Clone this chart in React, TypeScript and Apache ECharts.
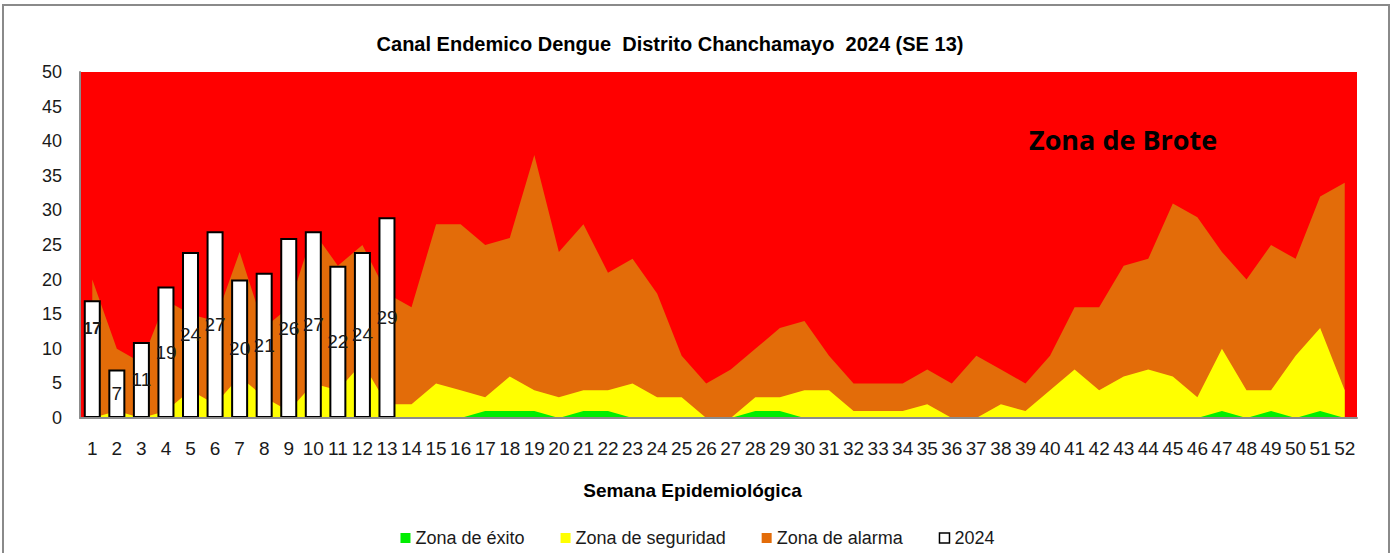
import React, { useEffect, useRef } from 'react';
import * as echarts from 'echarts';

const weeks = ['1','2','3','4','5','6','7','8','9','10','11','12','13','14','15','16','17','18','19','20','21','22','23','24','25','26','27','28','29','30','31','32','33','34','35','36','37','38','39','40','41','42','43','44','45','46','47','48','49','50','51','52'];

// cumulative upper limits of each zone (cases)
const zonaExito = [0,0,0,0,0,0,0,0,0,0,0,0,0,0,0,0,1,1,1,0,1,1,0,0,0,0,0,1,1,0,0,0,0,0,0,0,0,0,0,0,0,0,0,0,0,0,1,0,1,0,1,0];
const zonaSeguridad = [0,1,0,1,4,2,6,3,1,5,4,8,2,2,5,4,3,6,4,3,4,4,5,3,3,0,0,3,3,4,4,1,1,1,2,0,0,2,1,4,7,4,6,7,6,3,10,4,4,9,13,4];
const zonaAlarma = [20,10,8,17,15,14,24,13,16,27,22,25,18,16,28,28,25,26,38,24,28,21,23,18,9,5,7,10,13,14,9,5,5,5,7,5,9,7,5,9,16,16,22,23,31,29,24,20,25,23,32,34];
const casos2024 = [17,7,11,19,24,27,20,21,26,27,22,24,29];

const NARROW = '"Liberation Sans Narrow", "Liberation Sans", Arial, sans-serif';

export default function App() {
  const ref = useRef<HTMLDivElement>(null);
  useEffect(() => {
    const chart = echarts.init(ref.current as HTMLDivElement, null, { renderer: 'svg' });
    const areaSeries = (name: string, data: number[], color: string, z: number) => ({
      name,
      type: 'line',
      data,
      symbol: 'none',
      showSymbol: false,
      lineStyle: { width: 0, color },
      itemStyle: { color },
      areaStyle: { color, opacity: 1 },
      z,
      silent: true,
    });
    chart.setOption({
      animation: false,
      backgroundColor: '#ffffff',
      grid: {
        left: 80, right: 38, top: 72, bottom: 135,
        show: true, backgroundColor: '#FF0000', borderWidth: 0,
      },
      xAxis: {
        type: 'category',
        data: weeks,
        boundaryGap: true,
        axisLine: { show: true, lineStyle: { color: '#8c8c8c', width: 2 } },
        axisTick: { show: false },
        splitLine: { show: false },
        axisLabel: { interval: 0, fontSize: 19, color: '#1a1a1a', fontFamily: NARROW, margin: 21 },
        name: 'Semana Epidemiológica',
        nameLocation: 'middle',
        nameGap: 63,
        nameTextStyle: { fontSize: 19, fontWeight: 'bold', fontFamily: NARROW, color: '#000', padding: [0, 52, 0, 0] },
        z: 10,
      },
      yAxis: {
        type: 'value',
        min: 0, max: 50, interval: 5,
        axisLine: { show: true, lineStyle: { color: '#8c8c8c', width: 2 } },
        axisTick: { show: false },
        splitLine: { show: false },
        axisLabel: { fontSize: 18, color: '#1a1a1a', margin: 18, fontFamily: '"Liberation Sans", Arial, sans-serif' },
        z: 10,
      },
      legend: {
        left: 'center',
        top: 524,
        itemWidth: 10,
        itemHeight: 10,
        itemGap: 36,
        textStyle: { fontSize: 18, color: '#1a1a1a', fontFamily: NARROW },
        data: [
          { name: 'Zona de éxito', icon: 'rect' },
          { name: 'Zona de seguridad', icon: 'rect' },
          { name: 'Zona de alarma', icon: 'rect' },
          { name: '2024', icon: 'rect', itemStyle: { color: '#ffffff', borderColor: '#000000', borderWidth: 1.5 } },
        ],
      },
      series: [
        areaSeries('Zona de alarma', zonaAlarma, '#E36C09', 1),
        areaSeries('Zona de seguridad', zonaSeguridad, '#FFFF00', 2),
        areaSeries('Zona de éxito', zonaExito, '#00EE00', 3),
        {
          name: '2024',
          type: 'bar',
          data: casos2024.map((v, i) => (i === 0 ? { value: v, label: { fontWeight: 'bold', fontSize: 16, offset: [0, -31] } } : v)),
          barWidth: 17,
          itemStyle: { color: '#ffffff', borderColor: '#000000', borderWidth: 2 },
          label: { show: true, position: 'inside', fontSize: 19, color: '#1a1a1a', fontFamily: NARROW },
          z: 5,
        },
      ],
      graphic: [
        {
          type: 'text', x: 670, y: 44, silent: true,
          style: {
            text: 'Canal Endemico Dengue  Distrito Chanchamayo  2024 (SE 13)',
            fontSize: 20, fontWeight: 'bold', fontFamily: NARROW, fill: '#000',
            align: 'center', verticalAlign: 'middle',
          },
        },
        {
          type: 'text', x: 1029, y: 139, silent: true, z: 20,
          style: {
            text: 'Zona de Brote',
            fontSize: 27, fontWeight: 'bold', fontFamily: '"Open Sans", "Liberation Sans", sans-serif', fill: '#000',
            align: 'left', verticalAlign: 'middle',
          },
        },
        {
          type: 'rect', silent: true, z: 50,
          shape: { x: 3, y: 5, width: 1386, height: 600 },
          style: { fill: 'none', stroke: '#8a8a8a', lineWidth: 2 },
        },
      ],
    });
    return () => chart.dispose();
  }, []);
  return <div ref={ref} style={{ position: 'absolute', left: 0, top: 0, width: 1395, height: 553 }} />;
}
